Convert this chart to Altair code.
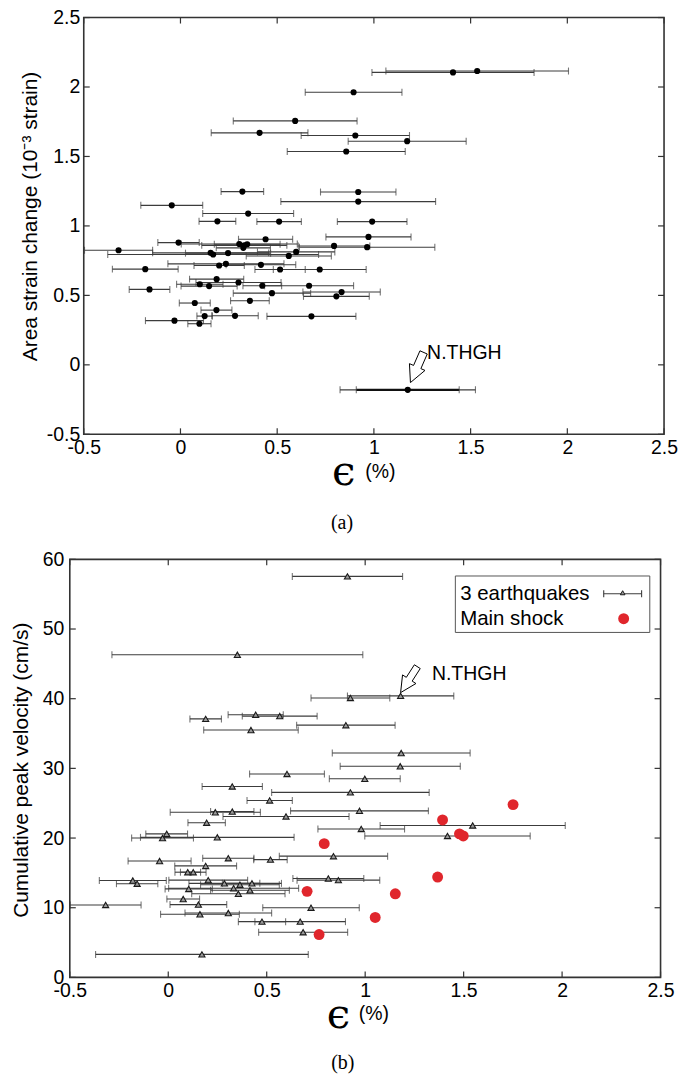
import altair as alt
import pandas as pd

FONT = "Liberation Sans"
SERIF = "Liberation Serif"
BAR = "#3c3c3c"
FRAME = "#333333"
RED = "#e0262c"
LBL = 19.5

# ---------------- panel (a) data ----------------
a_eps = [1.534, 1.409, 0.895, 0.593, 0.409, 0.904, 1.172, 0.857, 0.320, 0.919,
         0.919, -0.045, 0.350, 0.191, 0.510, 0.991, 0.972, 0.965, 0.440, -0.010,
         0.304, 0.330, 0.345, 0.325, 0.794, -0.320, 0.156, 0.169, 0.246, 0.598,
         0.560, -0.182, 0.200, 0.235, 0.416, 0.515, 0.720, 0.187, 0.100, 0.148,
         0.300, 0.423, 0.665, -0.160, 0.473, 0.833, 0.806, 0.074, 0.359, 0.186,
         0.125, 0.282, 0.677, -0.031, 0.098, 1.175]
a_strain = [2.115, 2.105, 1.962, 1.756, 1.670, 1.651, 1.610, 1.536, 1.247, 1.244,
            1.175, 1.148, 1.089, 1.033, 1.031, 1.031, 0.921, 0.847, 0.904, 0.880,
            0.870, 0.860, 0.868, 0.842, 0.856, 0.825, 0.806, 0.794, 0.804, 0.813,
            0.784, 0.689, 0.715, 0.727, 0.720, 0.686, 0.686, 0.617, 0.580, 0.567,
            0.593, 0.569, 0.569, 0.543, 0.516, 0.524, 0.493, 0.445, 0.461, 0.394,
            0.351, 0.353, 0.349, 0.318, 0.296, -0.180]
a_err = [0.472, 0.419, 0.250, 0.320, 0.250, 0.280, 0.305, 0.305, 0.110, 0.195,
         0.400, 0.160, 0.235, 0.095, 0.115, 0.180, 0.220, 0.350, 0.140, 0.107,
         0.300, 0.220, 0.170, 0.140, 0.185, 0.176, 0.300, 0.545, 0.220, 0.200,
         0.220, 0.170, 0.130, 0.300, 0.180, 0.130, 0.240, 0.140, 0.120, 0.145,
         0.220, 0.100, 0.230, 0.105, 0.200, 0.200, 0.170, 0.080, 0.100, 0.080,
         0.040, 0.120, 0.230, 0.150, 0.060, 0.350]
a_nthgh = {"x": [1.175], "y": [-0.180], "err": [0.266], "tx": [1.275], "ty": [0.088]}
a_ticks = [-0.5, 0, 0.5, 1, 1.5, 2, 2.5]

# ---------------- panel (b) data ----------------
b_eps = [0.910, 0.351, 0.925, 1.180, 0.190, 0.444, 0.566, 0.902, 0.420, 1.183,
         1.178, 0.603, 0.998, 0.325, 0.925, 0.515, 0.971, 0.239, 0.325, 0.598,
         0.195, 0.980, 1.546, 1.418, -0.008, -0.029, 0.249, 0.839, -0.044, 0.305,
         0.519, 0.190, 0.099, 0.127, -0.180, -0.158, 0.203, 0.285, 0.364, 0.425,
         0.104, 0.332, 0.415, 0.356, 0.813, 0.864, 0.076, 0.153, -0.318, 0.725,
         0.161, 0.305, 0.476, 0.670, 0.685, 0.171]
b_vel = [57.55, 46.3, 40.1, 40.4, 37.1, 37.7, 37.5, 36.2, 35.5, 32.2,
         30.3, 29.2, 28.5, 27.4, 26.55, 25.4, 23.9, 23.7, 23.8, 23.1,
         22.2, 21.3, 21.8, 20.3, 20.6, 20.0, 20.1, 17.4, 16.7, 17.1,
         16.9, 16.0, 15.1, 15.1, 13.9, 13.45, 13.96, 13.5, 13.3, 13.5,
         12.7, 12.8, 12.5, 12.0, 14.2, 13.96, 11.25, 10.45, 10.4, 10.0,
         9.06, 9.24, 8.0, 8.0, 6.48, 3.3]
b_err = [0.280, 0.637, 0.200, 0.270, 0.080, 0.140, 0.190, 0.250, 0.240, 0.350,
         0.305, 0.190, 0.180, 0.153, 0.400, 0.115, 0.350, 0.229, 0.110, 0.320,
         0.095, 0.220, 0.470, 0.420, 0.106, 0.157, 0.390, 0.275, 0.160, 0.130,
         0.085, 0.157, 0.065, 0.065, 0.170, 0.105, 0.200, 0.180, 0.200, 0.150,
         0.120, 0.330, 0.200, 0.237, 0.180, 0.210, 0.083, 0.144, 0.180, 0.245,
         0.200, 0.220, 0.120, 0.230, 0.226, 0.540]
main_eps = [1.751, 1.393, 1.479, 1.498, 0.792, 1.368, 0.705, 1.153, 1.051, 0.766]
main_vel = [24.8, 22.6, 20.6, 20.3, 19.2, 14.4, 12.35, 12.0, 8.6, 6.15]
b_nthgh = {"x": [1.180], "y": [40.4], "tx": [1.339], "ty": [43.6]}
b_xticks = [-0.5, 0, 0.5, 1, 1.5, 2, 2.5]
b_yticks = [0, 10, 20, 30, 40, 50, 60]

legend_labels = ["3 earthquakes", "Main shock"]

ARROW_A = ("M0.27,-0.73 L1.729,-1.949 L1.317,-2.129 L1.957,-3.596 "
           "L1.223,-3.916 L0.583,-2.449 L0.171,-2.629 Z")
ARROW_B = ("M0,-0.33 L1.536,-1.242 L1.158,-1.485 L1.968,-2.745 "
           "L1.38,-3.123 L0.57,-1.863 L0.192,-2.106 Z")

one = pd.DataFrame({"k": [0]})
LABEL_FMT = "replace(format(datum.value, '~g'), '\u2212', '-')"


def frame_layers(W, H, xs, ys, xticks, yticks):
    tx = pd.DataFrame({"t": xticks})
    ty = pd.DataFrame({"t": yticks})
    frame = alt.Chart(one).mark_rect(stroke=FRAME, strokeWidth=1.6, fillOpacity=0).encode(
        x=alt.value(0), x2=alt.value(W), y=alt.value(0), y2=alt.value(H))
    tb = alt.Chart(tx).mark_rule(color=FRAME, strokeWidth=1.2).encode(
        x=alt.X("t:Q", scale=xs), y=alt.value(H), y2=alt.value(H - 6))
    tt = alt.Chart(tx).mark_rule(color=FRAME, strokeWidth=1.2).encode(
        x=alt.X("t:Q", scale=xs), y=alt.value(0), y2=alt.value(6))
    tl = alt.Chart(ty).mark_rule(color=FRAME, strokeWidth=1.2).encode(
        y=alt.Y("t:Q", scale=ys), x=alt.value(0), x2=alt.value(6))
    tr = alt.Chart(ty).mark_rule(color=FRAME, strokeWidth=1.2).encode(
        y=alt.Y("t:Q", scale=ys), x=alt.value(W), x2=alt.value(W - 6))
    return [tb, tt, tl, tr, frame]


def eps_title(ex, px_, ey, py, cap, cx, cy):
    e = alt.Chart(one).mark_text(text="\u03f5", font="DejaVu Serif", fontSize=42,
                                 align="center", baseline="alphabetic", color="black").encode(
        x=alt.value(ex), y=alt.value(ey))
    p = alt.Chart(one).mark_text(text="(%)", font=FONT, fontSize=LBL,
                                 align="center", baseline="middle", color="black").encode(
        x=alt.value(px_), y=alt.value(py))
    c = alt.Chart(one).mark_text(text=cap, font=SERIF, fontSize=20,
                                 align="center", baseline="middle", color="black").encode(
        x=alt.value(cx), y=alt.value(cy))
    return [e, p, c]


def anchor(x1, x2, y1, y2):
    # invisible zero-width element fixing the outer bounds of the drawing
    return alt.Chart(one).mark_rule(strokeWidth=0, opacity=0).encode(
        x=alt.value(x1), x2=alt.value(x2), y=alt.value(y1), y2=alt.value(y2))


# ---------------- panel (a) ----------------
WA, HA = 582, 418
xs_a = alt.Scale(domain=[-0.5, 2.5], nice=False, zero=False)
ys_a = alt.Scale(domain=[-0.5, 2.5], nice=False, zero=False)
xaxis_a = alt.Axis(values=a_ticks, title=None, grid=False, ticks=False, domain=False,
                   labelFont=FONT, labelFontSize=LBL, labelColor="black", labelPadding=4,
                   labelFlush=False, labelOverlap=False, labelExpr=LABEL_FMT)
yaxis_a = alt.Axis(values=a_ticks, title="Area strain change (10\u207b\u00b3 strain)",
                   grid=False, ticks=False, domain=False,
                   labelFont=FONT, labelFontSize=LBL, labelColor="black", labelPadding=4,
                   labelFlush=False, labelOverlap=False, labelExpr=LABEL_FMT,
                   titleFont=FONT, titleFontSize=21, titleFontWeight="normal",
                   titleColor="black", titleX=-47, titleY=199, titleBaseline="alphabetic",
                   titleAngle=270, titleAlign="center")

dfa = pd.DataFrame({"x": a_eps, "y": a_strain, "err": a_err})
dfa["lo"] = dfa["x"] - dfa["err"]
dfa["hi"] = dfa["x"] + dfa["err"]
ba = alt.Chart(dfa)
a_rules = ba.mark_rule(color=BAR, strokeWidth=1.1).encode(
    x=alt.X("lo:Q", scale=xs_a, axis=xaxis_a), x2="hi:Q",
    y=alt.Y("y:Q", scale=ys_a, axis=yaxis_a))
a_cap1 = ba.mark_tick(orient="vertical", size=7, thickness=1.1, color=BAR).encode(
    x=alt.X("lo:Q", scale=xs_a), y=alt.Y("y:Q", scale=ys_a))
a_cap2 = ba.mark_tick(orient="vertical", size=7, thickness=1.1, color=BAR).encode(
    x=alt.X("hi:Q", scale=xs_a), y=alt.Y("y:Q", scale=ys_a))
a_pts = ba.mark_circle(size=38, color="black", opacity=1).encode(
    x=alt.X("x:Q", scale=xs_a), y=alt.Y("y:Q", scale=ys_a))

dfan = pd.DataFrame(a_nthgh)
dfan["lo"] = dfan["x"] - dfan["err"]
dfan["hi"] = dfan["x"] + dfan["err"]
ban = alt.Chart(dfan)
a_inner = ban.mark_rule(color="#111111", strokeWidth=2.2).encode(
    x=alt.X("lo:Q", scale=xs_a), x2="hi:Q", y=alt.Y("y:Q", scale=ys_a))
a_icap1 = ban.mark_tick(orient="vertical", size=7, thickness=1.1, color=BAR).encode(
    x=alt.X("lo:Q", scale=xs_a), y=alt.Y("y:Q", scale=ys_a))
a_icap2 = ban.mark_tick(orient="vertical", size=7, thickness=1.1, color=BAR).encode(
    x=alt.X("hi:Q", scale=xs_a), y=alt.Y("y:Q", scale=ys_a))
a_arrow = ban.mark_point(shape=ARROW_A, size=400, filled=False, stroke="black",
                         strokeWidth=1, opacity=1).encode(
    x=alt.X("x:Q", scale=xs_a), y=alt.Y("y:Q", scale=ys_a))
a_label = ban.mark_text(text="N.THGH", font=FONT, fontSize=LBL, align="left",
                        baseline="middle", color="black").encode(
    x=alt.X("tx:Q", scale=xs_a), y=alt.Y("ty:Q", scale=ys_a))

panel_a = alt.layer(
    a_rules, a_cap1, a_cap2, a_inner, a_icap1, a_icap2, a_pts, a_arrow, a_label,
    *frame_layers(WA, HA, xs_a, ys_a, a_ticks, a_ticks),
    *eps_title(260.7, 297.5, HA + 51, HA + 38, "(a)", 259, HA + 89),
    anchor(100, 101, -15.7, -15.7),
).properties(width=WA, height=HA)

# ---------------- panel (b) ----------------
WB, HB = 592.5, 419.3
xs_b = alt.Scale(domain=[-0.5, 2.5], nice=False, zero=False)
ys_b = alt.Scale(domain=[0, 60], nice=False, zero=False)
xaxis_b = alt.Axis(values=b_xticks, title=None, grid=False, ticks=False, domain=False,
                   labelFont=FONT, labelFontSize=LBL, labelColor="black", labelPadding=4,
                   labelFlush=False, labelOverlap=False, labelExpr=LABEL_FMT)
yaxis_b = alt.Axis(values=b_yticks, title="Cumulative peak velocity (cm/s)",
                   grid=False, ticks=False, domain=False,
                   labelFont=FONT, labelFontSize=LBL, labelColor="black", labelPadding=6,
                   labelFlush=False, labelOverlap=False, labelExpr=LABEL_FMT,
                   titleFont=FONT, titleFontSize=21, titleFontWeight="normal",
                   titleColor="black", titleX=-42, titleY=211, titleBaseline="alphabetic",
                   titleAngle=270, titleAlign="center")

dfb = pd.DataFrame({"x": b_eps, "y": b_vel, "err": b_err})
dfb["lo"] = dfb["x"] - dfb["err"]
dfb["hi"] = dfb["x"] + dfb["err"]
bb = alt.Chart(dfb)
b_rules = bb.mark_rule(color=BAR, strokeWidth=1.1).encode(
    x=alt.X("lo:Q", scale=xs_b, axis=xaxis_b), x2="hi:Q",
    y=alt.Y("y:Q", scale=ys_b, axis=yaxis_b))
b_cap1 = bb.mark_tick(orient="vertical", size=7, thickness=1.1, color=BAR).encode(
    x=alt.X("lo:Q", scale=xs_b), y=alt.Y("y:Q", scale=ys_b))
b_cap2 = bb.mark_tick(orient="vertical", size=7, thickness=1.1, color=BAR).encode(
    x=alt.X("hi:Q", scale=xs_b), y=alt.Y("y:Q", scale=ys_b))
b_pts = bb.mark_point(shape="triangle-up", size=38, filled=True, fill="#999999",
                      stroke="#1a1a1a", strokeWidth=1.1, opacity=1).encode(
    x=alt.X("x:Q", scale=xs_b), y=alt.Y("y:Q", scale=ys_b))

dfm = pd.DataFrame({"x": main_eps, "y": main_vel})
b_main = alt.Chart(dfm).mark_circle(size=120, color=RED, opacity=1).encode(
    x=alt.X("x:Q", scale=xs_b), y=alt.Y("y:Q", scale=ys_b))

dfbn = pd.DataFrame(b_nthgh)
bbn = alt.Chart(dfbn)
b_arrow = bbn.mark_point(shape=ARROW_B, size=400, filled=False, stroke="black",
                         strokeWidth=1, opacity=1).encode(
    x=alt.X("x:Q", scale=xs_b), y=alt.Y("y:Q", scale=ys_b))
b_label = bbn.mark_text(text="N.THGH", font=FONT, fontSize=LBL, align="left",
                        baseline="middle", color="black").encode(
    x=alt.X("tx:Q", scale=xs_b), y=alt.Y("ty:Q", scale=ys_b))

# legend (drawn as a boxed key, as in the original figure)
leg_box = alt.Chart(one).mark_rect(stroke="#555555", strokeWidth=1, fill="white").encode(
    x=alt.value(386.7), x2=alt.value(581.7), y=alt.value(16.7), y2=alt.value(73.3))
leg_t1 = alt.Chart(one).mark_text(text=legend_labels[0], font=FONT, fontSize=20.5,
                                  align="left", baseline="middle", color="black").encode(
    x=alt.value(391.5), y=alt.value(35))
leg_t2 = alt.Chart(one).mark_text(text=legend_labels[1], font=FONT, fontSize=20.5,
                                  align="left", baseline="middle", color="black").encode(
    x=alt.value(391.5), y=alt.value(60))
leg_bar = alt.Chart(one).mark_rule(color=BAR, strokeWidth=1.1).encode(
    x=alt.value(535.5), x2=alt.value(573.5), y=alt.value(34.5))
leg_c1 = alt.Chart(one).mark_rule(color=BAR, strokeWidth=1.1).encode(
    x=alt.value(535.5), y=alt.value(31), y2=alt.value(38))
leg_c2 = alt.Chart(one).mark_rule(color=BAR, strokeWidth=1.1).encode(
    x=alt.value(573.5), y=alt.value(31), y2=alt.value(38))
leg_tri = alt.Chart(one).mark_point(shape="triangle-up", size=22, filled=True, fill="#999999",
                                    stroke="#1a1a1a", strokeWidth=1, opacity=1).encode(
    x=alt.value(554.5), y=alt.value(33.5))
leg_dot = alt.Chart(one).mark_circle(size=120, color=RED, opacity=1).encode(
    x=alt.value(555.5), y=alt.value(59.5))

panel_b = alt.layer(
    b_rules, b_cap1, b_cap2, b_pts, b_main, b_arrow, b_label,
    *frame_layers(WB, HB, xs_b, ys_b, b_xticks, b_yticks),
    leg_box, leg_t1, leg_t2, leg_bar, leg_c1, leg_c2, leg_tri, leg_dot,
    *eps_title(269.5, 305, HB + 51, HB + 37, "(b)", 273.8, HB + 86),
    anchor(-70, -70, 100, 101),
    anchor(608, 608, 100, 101),
    anchor(100, 101, 518, 518),
).properties(width=WB, height=HB)

spacer = alt.Chart(one).mark_point(opacity=0).encode(
    x=alt.value(0), y=alt.value(0)).properties(width=14, height=HA)

top_row = alt.hconcat(spacer, panel_a, spacing=0, bounds="flush")

# the nested row counts as zero height in a flush layout, so the gap
# between the two plot areas is the row height plus the visible gap
chart = alt.vconcat(top_row, panel_b, spacing=HA + 125.4, bounds="flush").properties(
    autosize=alt.AutoSizeParams(type="pad"),
    padding=0,
    background="white",
).configure_view(stroke=None)

chart.save("out.html", embed_options={"renderer": "svg", "actions": False})
